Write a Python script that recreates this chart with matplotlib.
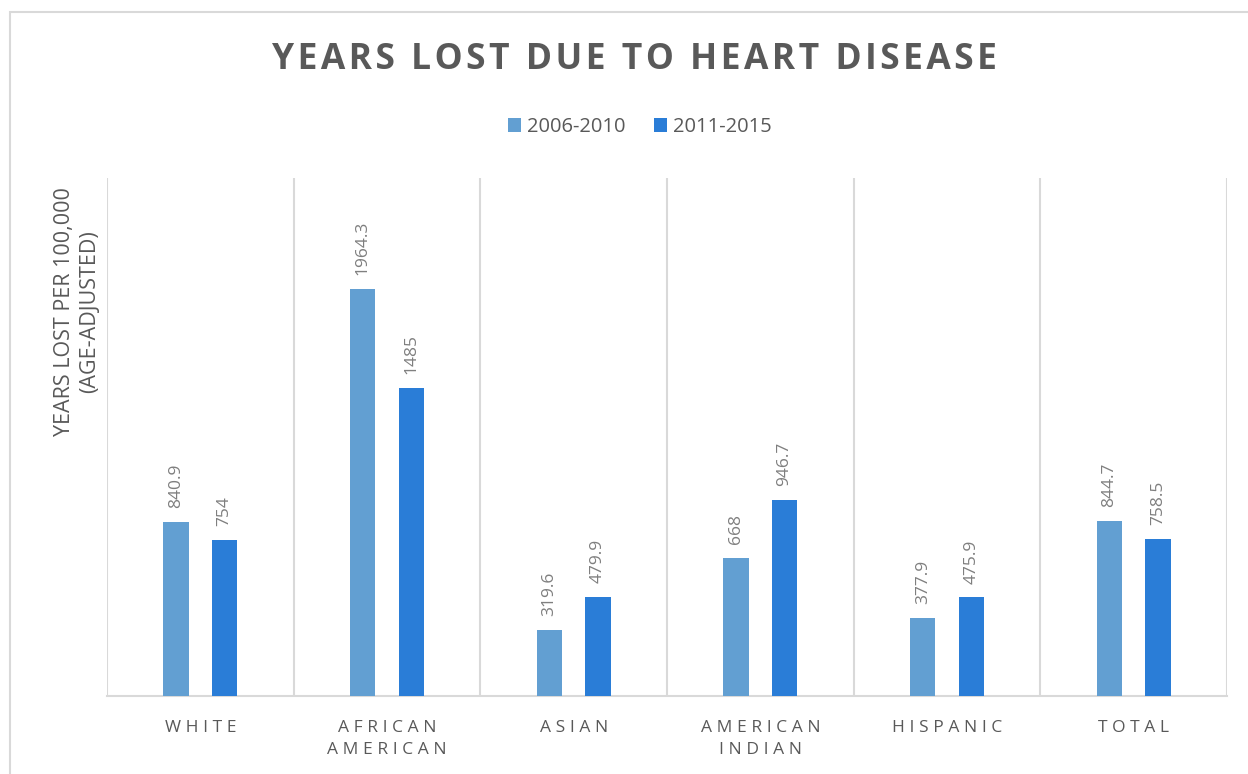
import numpy as np
import matplotlib.pyplot as plt
from matplotlib.patches import Rectangle

plt.rcParams['font.family'] = ['Open Sans', 'DejaVu Sans']

# Data
categories = ['WHITE', 'AFRICAN\nAMERICAN', 'ASIAN', 'AMERICAN\nINDIAN', 'HISPANIC', 'TOTAL']
series_names = ['2006-2010', '2011-2015']
values_0610 = [840.9, 1964.3, 319.6, 668, 377.9, 844.7]
values_1115 = [754, 1485, 479.9, 946.7, 475.9, 758.5]
labels_0610 = ['840.9', '1964.3', '319.6', '668', '377.9', '844.7']
labels_1115 = ['754', '1485', '479.9', '946.7', '475.9', '758.5']

c1 = '#629fd2'
c2 = '#2a7dd7'
text_dark = '#595959'
text_light = '#7f7f7f'


def spaced(s, sp):
    # imitate letter spacing by putting narrow spaces between letters
    return '\n'.join(sp.join(line) for line in s.split('\n'))


W, H = 1248, 774
fig = plt.figure(figsize=(W / 100, H / 100), dpi=100)
ax = fig.add_axes([107 / W, 1 - 696 / H, (1227 - 107) / W, (696 - 178) / H])

x = np.arange(len(categories))
width = 0.135
off = 0.13
b1 = ax.bar(x - off, values_0610, width, color=c1, label=series_names[0], zorder=3)
b2 = ax.bar(x + off, values_1115, width, color=c2, label=series_names[1], zorder=3)

for bars, labs in [(b1, labels_0610), (b2, labels_1115)]:
    for rect, lab in zip(bars, labs):
        ax.annotate(lab, (rect.get_x() + rect.get_width() / 2, rect.get_height()),
                    xytext=(0, 10), textcoords='offset points', rotation=90,
                    ha='center', va='bottom', fontsize=12.5, color=text_light)

ax.set_xlim(-0.5, len(categories) - 0.5)
ax.set_ylim(0, 2500)
ax.set_yticks([])
ax.set_xticks(x)
ax.set_xticklabels([spaced(c, '\u2009\u200a') for c in categories], fontsize=12.5,
                   color=text_dark, linespacing=1.55)
ax.tick_params(axis='x', length=0, pad=17)

# category separators
for xs in np.arange(-0.5, len(categories) + 0.5, 1):
    ax.axvline(xs, color='#d9d9d9', lw=1.5, zorder=1)
for s in ['top', 'right', 'left']:
    ax.spines[s].set_visible(False)
ax.spines['bottom'].set_color('#d9d9d9')
ax.spines['bottom'].set_linewidth(1.5)

fig.text(634 / W, 1 - 60 / H, spaced('YEARS LOST DUE TO HEART DISEASE', '\u200a'),
         ha='center', va='center', fontsize=25.5, fontweight='bold', color=text_dark)

fig.text(77 / W, 1 - 187 / H, 'YEARS LOST PER 100,000\n(AGE-ADJUSTED)', rotation=90,
         ha='center', va='top', fontsize=15.5, color=text_dark, linespacing=1.3)

leg = fig.legend(handles=[b1, b2], loc='center', bbox_to_anchor=(640 / W, 1 - 127 / H),
                 ncol=2, frameon=False, fontsize=14.5, handlelength=0.65, handleheight=0.65,
                 handletextpad=0.3, columnspacing=1.4)
for t in leg.get_texts():
    t.set_color(text_dark)

# outer chart border
fig.patches.append(Rectangle((10 / W, -0.1), 1.2, 1 - 12 / H + 0.1, transform=fig.transFigure,
                             fill=False, edgecolor='#d9d9d9', lw=1.5))

fig.savefig('out.png', dpi=100)
